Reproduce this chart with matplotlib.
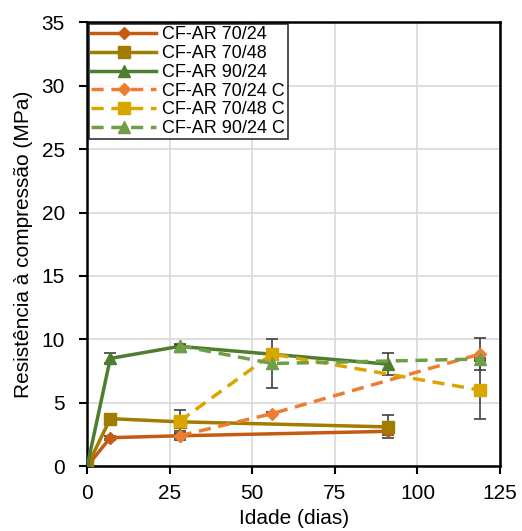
import matplotlib
matplotlib.use('Agg')
import matplotlib.pyplot as plt

plt.rcParams['font.family'] = ['Liberation Sans', 'DejaVu Sans']

# idade (dias) e resistencia (MPa)
x_7024 = [0, 7, 28, 91]
y_7024 = [0, 2.25, 2.4, 2.75]
e_7024 = [0, 0.15, 0.15, 0.3]

x_7048 = [0, 7, 28, 91]
y_7048 = [0, 3.75, 3.5, 3.1]
e_7048 = [0, 0.3, 0.2, 0.9]

x_9024 = [0, 7, 28, 91]
y_9024 = [0, 8.5, 9.45, 8.05]
e_9024 = [0, 0.4, 0.1, 0.85]

x_7024c = [28, 56, 119]
y_7024c = [2.4, 4.15, 8.85]
e_7024c = [0.35, 0.1, 1.25]

x_7048c = [28, 56, 119]
y_7048c = [3.55, 8.85, 6.0]
e_7048c = [0.9, 0.15, 2.3]

x_9024c = [28, 56, 119]
y_9024c = [9.5, 8.1, 8.45]
e_9024c = [0.1, 1.9, 0.1]

labels = ['CF-AR 70/24', 'CF-AR 70/48', 'CF-AR 90/24',
          'CF-AR 70/24 C', 'CF-AR 70/48 C', 'CF-AR 90/24 C']

series = [
    (x_7024, y_7024, e_7024, '#C55A11', 'D', '-', 6),
    (x_7048, y_7048, e_7048, '#A07C00', 's', '-', 8),
    (x_9024, y_9024, e_9024, '#4E7D2E', '^', '-', 8),
    (x_7024c, y_7024c, e_7024c, '#ED7D31', 'D', '--', 6),
    (x_7048c, y_7048c, e_7048c, '#DBA500', 's', '--', 8),
    (x_9024c, y_9024c, e_9024c, '#6E9E45', '^', '--', 8),
]

fig = plt.figure(figsize=(5.22, 5.31), dpi=100)
ax = fig.add_axes([0.167, 0.122, 0.791, 0.836])

for (xs, ys, es, c, m, ls, ms), lab in zip(series, labels):
    ax.errorbar(xs, ys, yerr=es, fmt='none', ecolor='#404040',
                elinewidth=1.2, capsize=4, capthick=1.2, zorder=2)
    line, = ax.plot(xs, ys, color=c, marker=m, linestyle=ls, linewidth=2.5,
                    markersize=ms, label=lab, zorder=3)
    if ls == '--':
        line.set_dashes((3.5, 2.2))

ax.set_xlim(0, 125)
ax.set_ylim(0, 35)
ax.set_xticks([0, 25, 50, 75, 100, 125])
ax.set_yticks([0, 5, 10, 15, 20, 25, 30, 35])
ax.grid(True, color='#D9D9D9', linewidth=1.2)
ax.set_axisbelow(True)
for s in ax.spines.values():
    s.set_linewidth(1.8)
ax.tick_params(direction='out', length=6, width=1.5, labelsize=15)
ax.tick_params(axis='y', pad=10)
ax.tick_params(axis='x', pad=7)

ax.set_xlabel('Idade (dias)', fontsize=15, labelpad=4)
ax.set_ylabel('Resistência à compressão (MPa)', fontsize=15, labelpad=6)

leg = ax.legend(loc='upper left', fontsize=13, frameon=True, fancybox=False,
                edgecolor='black', handlelength=3.6, handletextpad=0.35,
                labelspacing=0.1, borderpad=0.12, borderaxespad=0.1)
leg.get_frame().set_linewidth(1.2)

fig.savefig('out.png', dpi=100)
